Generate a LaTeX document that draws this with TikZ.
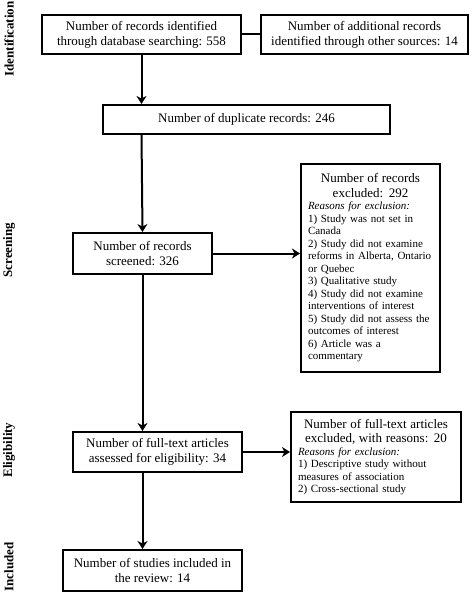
\documentclass[tikz,border=0pt]{standalone}
\usepackage{fontspec}
\setmainfont{Liberation Serif}
\usetikzlibrary{arrows.meta}
\begin{document}
\begin{tikzpicture}[x=1pt, y=-1pt,
        box/.style={draw, line width=2pt, align=center, inner sep=4pt, font=\fontsize{13}{15}\selectfont},
        reasonbox/.style={draw, line width=2pt, align=left, inner xsep=7pt, inner ysep=5pt, font=\fontsize{11}{12.5}\selectfont},
        stage/.style={rotate=90, inner sep=0pt, font=\bfseries\fontsize{13}{14}\selectfont},
        flow/.style={line width=2pt, -{Stealth[length=8pt, width=10pt, inset=2.5pt]}}]
        \useasboundingbox (0,0) rectangle (472,594);

        % Stage labels
        \node[stage] (lid) at (9, 39) {Identification};
        \node[stage] (lscr) at (9, 250) {Screening};
        \node[stage] (lelig) at (9, 450) {Eligibility};
        \node[stage] (lincl) at (9, 567) {Included};

        % Boxes
        \node[box, minimum width=199pt, minimum height=39pt] (ident) at (141.5, 34.5) {Number of records identified\\through database searching: 558};
        \node[box, minimum width=207pt, minimum height=39pt] (other) at (364.5, 34.5) {Number of additional records\\identified through other sources: 14};
        \node[box, minimum width=287pt, minimum height=29pt] (dupl) at (246.5, 119.5) {Number of duplicate records: 246};
        \node[box, minimum width=139pt, minimum height=41pt] (scr) at (142.5, 253.5) {Number of records\\screened: 326};
        \node[reasonbox, text width=125pt, minimum height=208pt] (excl) at (370.5, 268) {{\centering\fontsize{13}{14.5}\selectfont Number of records\\excluded: 292\par}
            \textit{Reasons for exclusion:}\\
            1) Study was not set in\\Canada\\
            2) Study did not examine\\reforms in Alberta, Ontario\\or Quebec\\
            3) Qualitative study\\
            4) Study did not examine\\interventions of interest\\
            5) Study did not assess the\\outcomes of interest\\
            6) Article was a\\commentary};
        \node[box, minimum width=169pt, minimum height=40pt] (full) at (157.5, 452) {Number of full-text articles\\assessed for eligibility: 34};
        \node[reasonbox, text width=156pt, minimum height=90pt] (fexcl) at (376, 457) {{\centering\fontsize{13}{14.5}\selectfont Number of full-text articles\\excluded, with reasons: 20\par}
            \textit{Reasons for exclusion:}\\
            1) Descriptive study without\\measures of association\\
            2) Cross-sectional study};
        \node[box, minimum width=179pt, minimum height=41pt] (incl) at (152.5, 570.5) {Number of studies included in\\the review: 14};

        % Connectors
        \draw[line width=2pt] (ident.east) -- (other.west);
        \draw[flow] (ident.south) -- (ident.south |- dupl.north);
        \draw[flow] (ident.south |- dupl.south) -- (scr.north);
        \draw[flow] (scr.east) -- (scr.east -| excl.west);
        \draw[flow] (scr.south) -- (scr.south |- full.north);
        \draw[flow] (full.east) -- (full.east -| fexcl.west);
        \draw[flow] (scr.south |- full.south) -- (scr.south |- incl.north);
    \end{tikzpicture}
\end{document}
